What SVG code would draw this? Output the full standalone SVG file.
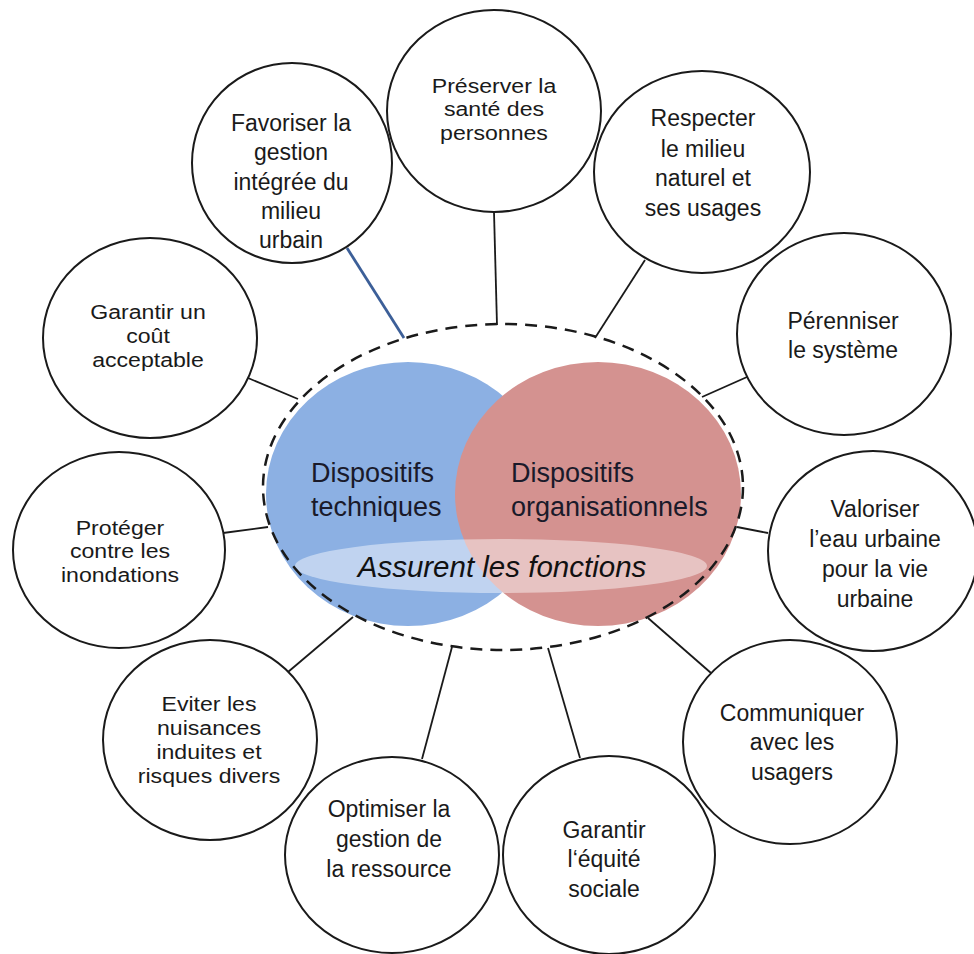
<svg xmlns="http://www.w3.org/2000/svg" width="974" height="954" viewBox="0 0 974 954">
<style>
.n{fill:#fff;stroke:#1a1a1a;stroke-width:2}
.t{font-family:"Liberation Sans",Arial,sans-serif;font-size:23px;fill:#1a1a1a;text-anchor:middle}
.s{font-size:21px}
.c{stroke:#1a1a1a;stroke-width:1.8;fill:none}
.big{font-family:"Liberation Sans",Arial,sans-serif;font-size:27px;fill:#1a1a2a}
</style>
<rect width="974" height="954" fill="#fff"/>
<g id="connectors">
<line class="c" x1="494" y1="212" x2="497" y2="325"/>
<line x1="347" y1="248" x2="404" y2="338" stroke="#3c5f98" stroke-width="2.8"/>
<line class="c" x1="645" y1="260" x2="595" y2="338"/>
<line class="c" x1="747" y1="377" x2="702" y2="397"/>
<line class="c" x1="768" y1="533" x2="737" y2="527"/>
<line class="c" x1="711" y1="673" x2="648" y2="618"/>
<line class="c" x1="580" y1="758" x2="548" y2="648"/>
<line class="c" x1="422" y1="759" x2="452" y2="647"/>
<line class="c" x1="288" y1="672" x2="353" y2="617"/>
<line class="c" x1="223" y1="533" x2="268" y2="527"/>
<line class="c" x1="248" y1="378" x2="298" y2="399"/>
</g>
<g id="center">
<ellipse cx="408" cy="494" rx="142" ry="132" fill="#8cb0e3"/>
<ellipse cx="598" cy="494" rx="143" ry="132" fill="#d49290"/>
<ellipse cx="501" cy="566" rx="206" ry="27" fill="#fff" fill-opacity="0.45"/>
<ellipse cx="503" cy="487" rx="240" ry="163" fill="none" stroke="#1a1a1a" stroke-width="2.5" stroke-dasharray="12 8"/>
<text class="big" x="311" y="482">Dispositifs</text>
<text class="big" x="311" y="516">techniques</text>
<text class="big" x="511" y="482">Dispositifs</text>
<text class="big" x="511" y="516">organisationnels</text>
<text x="502" y="577" font-family="Liberation Sans,Arial,sans-serif" font-size="29.5" font-style="italic" fill="#111" text-anchor="middle">Assurent les fonctions</text>
</g>
<g id="n-preserver">
<ellipse class="n" cx="494" cy="111" rx="107" ry="101"/>
<g transform="translate(494,0) scale(1.1,1)">
<text class="t s" x="0" y="93">Préserver la</text>
<text class="t s" x="0" y="116">santé des</text>
<text class="t s" x="0" y="140">personnes</text>
</g>
</g>
<g id="n-favoriser">
<ellipse class="n" cx="292" cy="163" rx="100" ry="100"/>
<text class="t" x="291" y="131">Favoriser la</text>
<text class="t" x="291" y="160">gestion</text>
<text class="t" x="291" y="190">intégrée du</text>
<text class="t" x="291" y="219">milieu</text>
<text class="t" x="291" y="248">urbain</text>
</g>
<g id="n-respecter">
<ellipse class="n" cx="702" cy="172" rx="108" ry="101"/>
<text class="t" x="703" y="126">Respecter</text>
<text class="t" x="703" y="157">le milieu</text>
<text class="t" x="703" y="186">naturel et</text>
<text class="t" x="703" y="216">ses usages</text>
</g>
<g id="n-perenniser">
<ellipse class="n" cx="844" cy="334" rx="107" ry="101"/>
<text class="t" x="843" y="329">Pérenniser</text>
<text class="t" x="843" y="358">le système</text>
</g>
<g id="n-valoriser">
<ellipse class="n" cx="873" cy="551" rx="105" ry="100"/>
<text class="t" x="875" y="517">Valoriser</text>
<text class="t" x="875" y="547">l’eau urbaine</text>
<text class="t" x="875" y="577">pour la vie</text>
<text class="t" x="875" y="607">urbaine</text>
</g>
<g id="n-communiquer">
<ellipse class="n" cx="790" cy="742" rx="107" ry="102"/>
<text class="t" x="792" y="721">Communiquer</text>
<text class="t" x="792" y="750">avec les</text>
<text class="t" x="792" y="780">usagers</text>
</g>
<g id="n-equite">
<ellipse class="n" cx="609" cy="855" rx="106" ry="99"/>
<text class="t" x="604" y="838">Garantir</text>
<text class="t" x="604" y="867">l‘équité</text>
<text class="t" x="604" y="897">sociale</text>
</g>
<g id="n-optimiser">
<ellipse class="n" cx="392" cy="855" rx="107" ry="98"/>
<text class="t" x="389" y="817">Optimiser la</text>
<text class="t" x="389" y="847">gestion de</text>
<text class="t" x="389" y="877">la ressource</text>
</g>
<g id="n-eviter">
<ellipse class="n" cx="210" cy="740" rx="107" ry="100"/>
<g transform="translate(209,0) scale(1.1,1)">
<text class="t s" x="0" y="711">Eviter les</text>
<text class="t s" x="0" y="735">nuisances</text>
<text class="t s" x="0" y="759">induites et</text>
<text class="t s" x="0" y="783">risques divers</text>
</g>
</g>
<g id="n-proteger">
<ellipse class="n" cx="119" cy="550" rx="106" ry="98"/>
<g transform="translate(120,0) scale(1.1,1)">
<text class="t s" x="0" y="535">Protéger</text>
<text class="t s" x="0" y="558">contre les</text>
<text class="t s" x="0" y="582">inondations</text>
</g>
</g>
<g id="n-garantir-cout">
<ellipse class="n" cx="150" cy="338" rx="107" ry="100"/>
<g transform="translate(148,0) scale(1.1,1)">
<text class="t s" x="0" y="319">Garantir un</text>
<text class="t s" x="0" y="343">coût</text>
<text class="t s" x="0" y="367">acceptable</text>
</g>
</g>
</svg>
